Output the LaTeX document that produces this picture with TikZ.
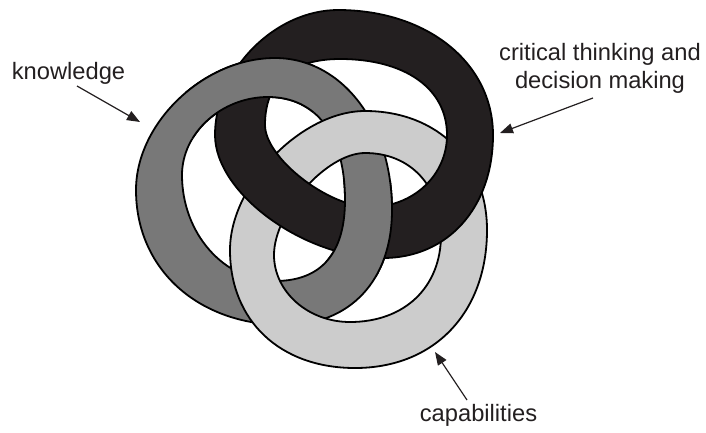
\documentclass[tikz,border=0pt]{standalone}
\usepackage{fontspec}
\setmainfont{Liberation Sans}
\usetikzlibrary{arrows.meta}
\definecolor{ringdark}{HTML}{231F20}
\definecolor{ringgray}{HTML}{787878}
\definecolor{ringlight}{HTML}{CCCCCC}
\definecolor{ink}{HTML}{231F20}
% quarter curves: horizontal tangent -> vertical tangent, and the reverse
\newcommand{\qHV}[5]{.. controls ({#1+#5*(#3-#1)},#2) and (#3,{#4+#5*(#2-#4)}) .. (#3,#4)}
\newcommand{\qVH}[5]{.. controls (#1,{#2+#5*(#4-#2)}) and ({#3+#5*(#1-#3)},#4) .. (#3,#4)}
\newcommand{\DarkRingPath}{%
  (338,10) \qHV{338}{10}{493}{135}{0.576} \qVH{493}{135}{383}{258}{0.589}
           \qHV{383}{258}{215}{135}{0.472} \qVH{215}{135}{338}{10}{0.515} -- cycle
  (340,59) \qHV{340}{59}{447}{135}{0.61} \qVH{447}{135}{370}{207}{0.56}
           \qHV{370}{207}{265}{125}{0.40} \qVH{265}{125}{340}{59}{0.65} -- cycle}
\newcommand{\GrayRingPath}{%
  (275,58) \qHV{275}{58}{392}{210}{0.57} \qVH{392}{210}{285}{325}{0.61}
           \qHV{285}{325}{136}{190}{0.585} \qVH{136}{190}{275}{58}{0.51} -- cycle
  (268,97) \qHV{268}{97}{345}{200}{0.63} \qVH{345}{200}{275}{281}{0.66}
           \qHV{275}{281}{182}{175}{0.55} \qVH{182}{175}{268}{97}{0.54} -- cycle}
\newcommand{\LightRingPath}{%
  (365,111) \qHV{365}{111}{487}{230}{0.59} \qVH{487}{230}{355}{368}{0.60}
            \qHV{355}{368}{230}{250}{0.60} \qVH{230}{250}{365}{111}{0.47} -- cycle
  (365,153) \qHV{365}{153}{441}{235}{0.60} \qVH{441}{235}{350}{322}{0.60}
            \qHV{350}{322}{274}{255}{0.55} \qVH{274}{255}{365}{153}{0.42} -- cycle}
\begin{document}
\begin{tikzpicture}[x=1pt,y=-1pt,
  ring/.style={draw=black, line width=1.8pt, even odd rule, line join=round},
  lbl/.style={font=\fontsize{23.7}{28}\selectfont, text=ink, inner sep=0pt, align=center},
  arr/.style={draw=ink, line width=1.2pt, -{Triangle[length=13pt,width=10pt]}}]
\useasboundingbox (0,0) rectangle (706,432);
% rings: gray over dark, dark over light, light over gray
\filldraw[ring, fill=ringgray] \GrayRingPath;
\filldraw[ring, fill=ringlight] \LightRingPath;
\filldraw[ring, fill=ringdark] \DarkRingPath;
\begin{scope}
  \clip (185,30) -- (315,30) -- (315,112) -- (270,120) -- (185,140) -- cycle;
  \filldraw[ring, fill=ringgray] \GrayRingPath;
\end{scope}
\begin{scope}
  \clip (326,180) rectangle (402,276);
  \filldraw[ring, fill=ringgray] \GrayRingPath;
\end{scope}
% labels
\node[lbl, anchor=base] (know) at (68.5,79) {knowledge};
\node[lbl, anchor=center] (crit) at (600,68) {critical thinking and\\decision making};
\node[lbl, anchor=base] (cap) at (478.5,421) {capabilities};
\coordinate (knowS) at (77,86);
\coordinate (knowT) at (140,122);
\coordinate (critS) at (593,98);
\coordinate (critT) at (500,133);
\coordinate (capS) at (467,400);
\coordinate (capT) at (435,352);
\draw[arr] (knowS) -- (knowT);
\draw[arr] (critS) -- (critT);
\draw[arr] (capS) -- (capT);
\end{tikzpicture}
\end{document}
